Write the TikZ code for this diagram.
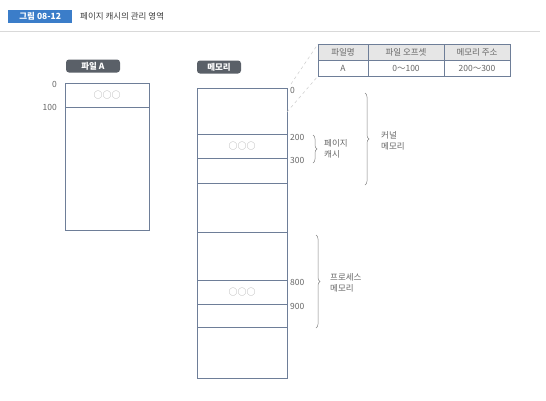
\documentclass[tikz,border=0pt]{standalone}
\usepackage{fontspec}
\setmainfont{Noto Sans CJK KR}
\usetikzlibrary{decorations.pathreplacing}
\definecolor{boxline}{HTML}{6E7E98}
\definecolor{txt}{HTML}{666666}
\definecolor{badge}{HTML}{5A6068}
\definecolor{titleblue}{HTML}{3B7DC9}
\definecolor{hdr}{HTML}{E6E6E6}
\tikzset{
  x=1pt, y=-1pt,
  mem/.style={draw=boxline, line width=0.7pt},
  lab/.style={text=txt, font=\fontsize{8.5}{9.5}\selectfont, inner sep=0pt},
  tag/.style={fill=badge, text=white, rounded corners=3pt, font=\fontsize{8.5}{9.5}\selectfont\bfseries, inner sep=0pt, minimum height=13pt},
  brace/.style={draw=txt!80, line width=0.5pt, decorate, decoration={brace, amplitude=4pt}},
  cell/.style={draw=boxline, line width=0.6pt},
  guide/.style={draw=gray!40, dashed, line width=0.5pt},
  dots/.style={text=gray!70, font=\fontsize{9}{10}\selectfont, inner sep=0pt}
}
\begin{document}
\begin{tikzpicture}
\useasboundingbox[fill=white] (0,0) rectangle (546,400);
% title
\node[fill=titleblue, text=white, font=\fontsize{8.5}{9.5}\selectfont\bfseries, minimum width=64pt, minimum height=13pt, inner sep=0pt, anchor=west] (badge) at (8,16) {그림 08-12};
\node[text=black!75, font=\fontsize{8.5}{9.5}\selectfont, anchor=west, inner sep=0pt] (title) at (80,16) {페이지 캐시의 관리 영역};
\coordinate (rl) at (0,31); \coordinate (rr) at (540,31);
\draw[gray!30, line width=0.6pt] (rl) -- (rr);

% file A
\node[tag, minimum width=54pt] (fileA) at (93,66) {파일 A};
\draw[mem] (65,83) rectangle (149,230);
\draw[mem] (65,107) -- (149,107);
\node[dots] (fdots) at (107,95) {○○○};
\node[lab, anchor=east] (f0) at (57,84) {0};
\node[lab, anchor=east] (f100) at (57,107) {100};

% memory
\node[tag, minimum width=44pt] (memtag) at (219,67) {메모리};
\draw[mem] (197,88) rectangle (287,378);
\draw[mem] (197,134) -- (287,134);
\draw[mem] (197,158) -- (287,158);
\draw[mem] (197,183) -- (287,183);
\draw[mem] (197,232) -- (287,232);
\draw[mem] (197,280) -- (287,280);
\draw[mem] (197,304) -- (287,304);
\draw[mem] (197,327) -- (287,327);
\node[dots] (mdots1) at (242,146) {○○○};
\node[dots] (mdots2) at (242,292) {○○○};
\node[lab, anchor=west] (m0) at (290,90) {0};
\node[lab, anchor=west] (m200) at (290,137) {200};
\node[lab, anchor=west] (m300) at (290,160) {300};
\node[lab, anchor=west] (m800) at (290,282) {800};
\node[lab, anchor=west] (m900) at (290,306) {900};

% braces
\coordinate (b1t) at (313,135); \coordinate (b1b) at (313,163);
\draw[brace] (b1t) -- (b1b);
\node[lab, anchor=west, align=left] (pc) at (324,149) {페이지\\[2pt]캐시};
\coordinate (b2t) at (365,93); \coordinate (b2b) at (365,185);
\draw[brace] (b2t) -- (b2b);
\node[lab, anchor=west, align=left] (km) at (381,141) {커널\\[2pt]메모리};
\coordinate (b3t) at (316,235); \coordinate (b3b) at (316,328);
\draw[brace] (b3t) -- (b3b);
\node[lab, anchor=west, align=left] (pm) at (330,283) {프로세스\\[2pt]메모리};

% table
\fill[hdr] (318,44) rectangle (510,60);
\draw[cell] (318,44) rectangle (510,76);
\draw[cell] (318,60) -- (510,60);
\draw[cell] (368,44) -- (368,76);
\draw[cell] (444,44) -- (444,76);
\node[lab] (h1) at (343,52) {파일명};
\node[lab] (h2) at (406,52) {파일 오프셋};
\node[lab] (h3) at (477,52) {메모리 주소};
\node[lab] (c1) at (343,68) {A};
\node[lab] (c2) at (406,68) {0～100};
\node[lab] (c3) at (477,68) {200～300};
\coordinate (t1) at (318,44); \coordinate (t2) at (318,76);
\coordinate (g1) at (291,84); \coordinate (g2) at (287,112);
\draw[guide] (g1) -- (t1);
\draw[guide] (g2) -- (t2);
\end{tikzpicture}
\end{document}
